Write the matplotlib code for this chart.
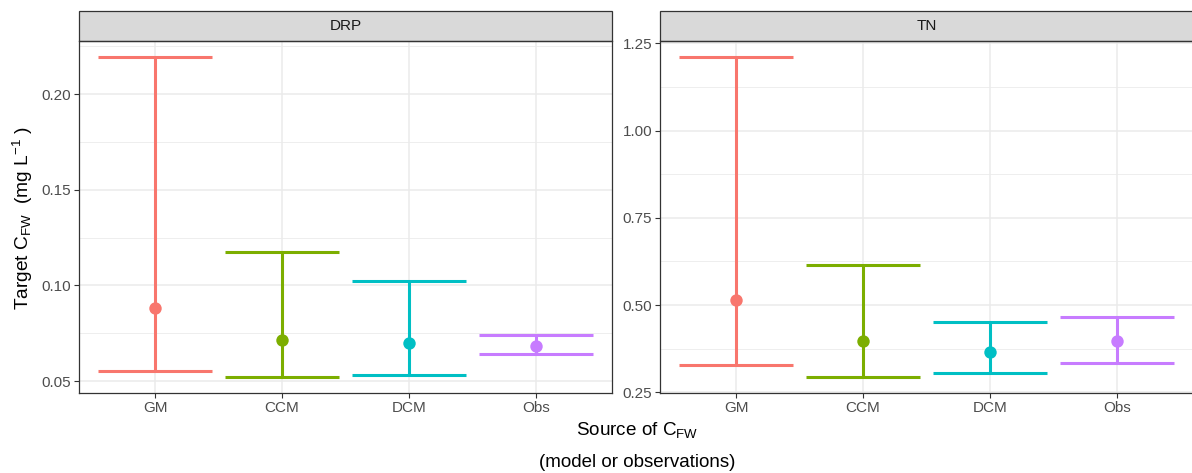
"""Target C_FW by source: error bars with medians, faceted by nutrient (DRP / TN)."""

import matplotlib

matplotlib.use("Agg")
import matplotlib.pyplot as plt
from matplotlib.patches import Rectangle
from matplotlib.ticker import MultipleLocator

plt.rcParams["font.family"] = ["Liberation Sans", "DejaVu Sans"]
plt.rcParams["mathtext.default"] = "regular"

# ---- data ----
sources = ["GM", "CCM", "DCM", "Obs"]
colors = ["#F8766D", "#7CAE00", "#00BFC4", "#C77CFF"]

drp_mid = [0.088, 0.0717, 0.0701, 0.0685]
drp_low = [0.0552, 0.0521, 0.0531, 0.0639]
drp_high = [0.2195, 0.1173, 0.1024, 0.0743]

tn_mid = [0.514, 0.397, 0.365, 0.398]
tn_low = [0.328, 0.294, 0.305, 0.3355]
tn_high = [1.211, 0.616, 0.452, 0.4655]

panels = [
    ("DRP", drp_mid, drp_low, drp_high, 0.05),
    ("TN", tn_mid, tn_low, tn_high, 0.25),
]

W, H = 1192, 473
fig = plt.figure(figsize=(W / 100, H / 100), dpi=100)

grid_col = "#EBEBEB"
border_col = "#333333"
tick_col = "#4D4D4D"


def add_panel(left_px, title, mid, low, high, step):
    ax = fig.add_axes([left_px / W, (H - 393) / H, 533 / W, 352 / H])
    xs = list(range(len(sources)))
    for x, m, lo, hi, c in zip(xs, mid, low, high, colors):
        ax.vlines(x, lo, hi, color=c, lw=2.2, zorder=3)
        ax.hlines([lo, hi], x - 0.45, x + 0.45, color=c, lw=2.2, zorder=3)
        ax.scatter([x], [m], s=80, color=c, zorder=4, linewidths=0)

    # ggplot-style expansion: 5% on continuous y, 0.6 on discrete x
    lo_all, hi_all = min(low), max(high)
    pad = (hi_all - lo_all) * 0.05
    ax.set_ylim(lo_all - pad, hi_all + pad)
    ax.set_xlim(-0.6, len(sources) - 0.4)

    ax.set_xticks(xs)
    ax.set_xticklabels(sources)
    ax.yaxis.set_major_locator(MultipleLocator(step))
    ax.yaxis.set_minor_locator(MultipleLocator(step / 2))
    ax.yaxis.set_major_formatter(plt.FormatStrFormatter("%.2f"))

    ax.grid(True, which="major", color=grid_col, lw=1.1, zorder=0)
    ax.grid(True, which="minor", axis="y", color=grid_col, lw=0.6, zorder=0)
    ax.set_axisbelow(True)
    ax.tick_params(which="major", length=3.5, width=0.8, color=border_col,
                   labelsize=11, labelcolor=tick_col, pad=2)
    ax.tick_params(which="minor", length=0)
    for sp in ax.spines.values():
        sp.set_color(border_col)
        sp.set_linewidth(0.9)

    # facet strip
    strip = Rectangle((0, 1), 1, 30 / 352, transform=ax.transAxes,
                      facecolor="#D9D9D9", edgecolor=border_col, lw=0.9,
                      clip_on=False)
    ax.add_patch(strip)
    ax.text(0.5, 1 + 15 / 352, title, transform=ax.transAxes,
            ha="center", va="center", fontsize=11, color="#1A1A1A")
    return ax


for left_px, (title, mid, low, high, step) in zip([79, 660], panels):
    add_panel(left_px, title, mid, low, high, step)

fig.text(23 / W, 1 - 218 / H, "Target C$_{FW}$  (mg L$^{-1}$ )",
         rotation=90, ha="center", va="center", fontsize=13.8)
fig.text(637 / W, 1 - 430 / H, "Source of C$_{FW}$",
         ha="center", va="center", fontsize=13.6)
fig.text(637 / W, 1 - 462 / H, "(model or observations)",
         ha="center", va="center", fontsize=13.5)

fig.savefig("out.png", dpi=100)
